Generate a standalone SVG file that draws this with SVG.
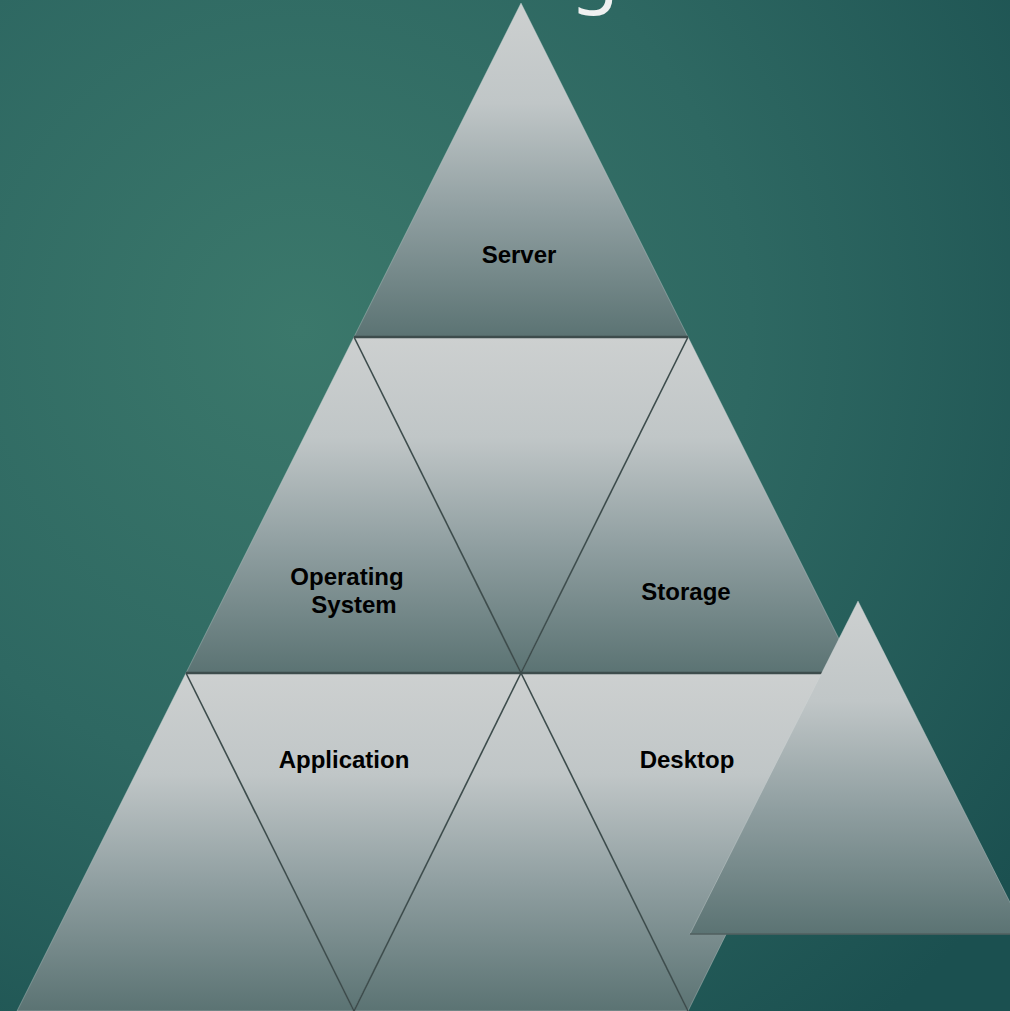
<svg xmlns="http://www.w3.org/2000/svg" width="1010" height="1011" viewBox="0 0 1010 1011">
  <defs>
    <radialGradient id="bg" cx="300" cy="330" r="900" gradientUnits="userSpaceOnUse">
      <stop offset="0" stop-color="#3b786b"/>
      <stop offset="0.5" stop-color="#2e6862"/>
      <stop offset="1" stop-color="#1b5050"/>
    </radialGradient>
    <linearGradient id="tri" x1="0" y1="0" x2="0" y2="1">
      <stop offset="0" stop-color="#cdd0d0"/>
      <stop offset="0.3" stop-color="#c0c6c7"/>
      <stop offset="0.62" stop-color="#909fa1"/>
      <stop offset="1" stop-color="#5b7373"/>
    </linearGradient>
    <style>
      .t { fill: url(#tri); stroke: #d4dada; stroke-opacity: 0.35; stroke-width: 1; }
      .lbl { font-family: "Liberation Sans", Arial, sans-serif; font-weight: bold; font-size: 24px; fill: #000; text-anchor: middle; }
      .div { stroke: #3d4c4c; fill: none; }
      .h { stroke-width: 2.5; }
      .d { stroke-width: 1.6; }
    </style>
  </defs>
  <rect x="0" y="0" width="1010" height="1011" fill="url(#bg)"/>
  <text x="571" y="-3" font-family="'Noto Sans', 'Open Sans', sans-serif" font-weight="400" font-size="78" fill="#f0f0f0">g</text>

  <g id="server">
    <polygon class="t" points="521,3 354,337 688,337"/>
    <text class="lbl" x="519" y="263">Server</text>
  </g>
  <g id="operating-system">
    <polygon class="t" points="354,337 186,673 521,673"/>
    <text class="lbl" x="347" y="585">Operating</text>
    <text class="lbl" x="354" y="613">System</text>
  </g>
  <g id="middle-upper">
    <polygon class="t" points="354,337 688,337 521,673"/>
  </g>
  <g id="storage">
    <polygon class="t" points="688,337 521,673 856,673"/>
    <text class="lbl" x="686" y="600">Storage</text>
  </g>
  <g id="left-lower">
    <polygon class="t" points="186,673 17,1011 354,1011"/>
  </g>
  <g id="application">
    <polygon class="t" points="186,673 521,673 354,1011"/>
    <text class="lbl" x="344" y="768">Application</text>
  </g>
  <g id="middle-lower">
    <polygon class="t" points="521,673 354,1011 688,1011"/>
  </g>
  <g id="desktop">
    <polygon class="t" points="521,673 856,673 688,1011"/>
    <text class="lbl" x="687" y="768">Desktop</text>
  </g>

  <g id="connectors">
    <line class="div h" x1="354" y1="337" x2="688" y2="337"/>
    <line class="div h" x1="186" y1="673" x2="856" y2="673"/>
    <line class="div d" x1="354" y1="337" x2="521" y2="673"/>
    <line class="div d" x1="688" y1="337" x2="521" y2="673"/>
    <line class="div d" x1="186" y1="673" x2="354" y2="1011"/>
    <line class="div d" x1="521" y1="673" x2="354" y2="1011"/>
    <line class="div d" x1="521" y1="673" x2="688" y2="1011"/>
  </g>

  <g id="offset-triangle">
    <polygon class="t" points="858,601 690,934 1026,934"/>
    <line x1="690" y1="934" x2="1010" y2="934" stroke="#4a5a5a" stroke-width="1.5"/>
  </g>
</svg>
